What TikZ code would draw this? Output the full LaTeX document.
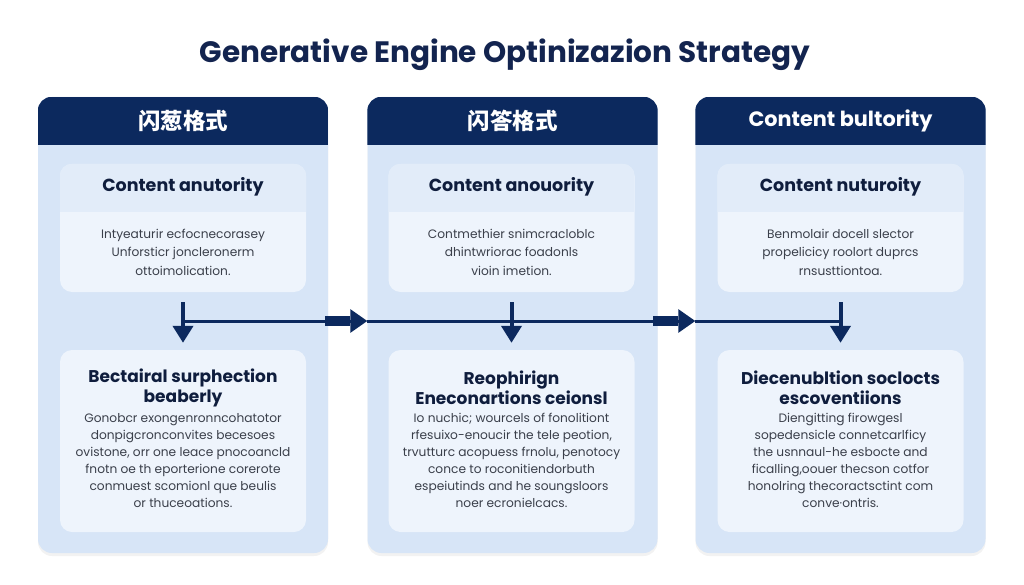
\documentclass[tikz,border=0pt]{standalone}
\usepackage{fontspec}
\setmainfont{Poppins}
\newfontfamily\cjk{Noto Sans CJK SC}
\usetikzlibrary{arrows.meta,shadows}
\definecolor{navy}{RGB}{12,41,94}
\definecolor{titlecol}{RGB}{19,36,79}
\definecolor{colfill}{RGB}{215,229,247}
\definecolor{boxfill}{RGB}{238,244,252}
\definecolor{bandfill}{RGB}{226,236,249}
\definecolor{bodytext}{RGB}{58,63,74}
\definecolor{boxtitle}{RGB}{15,29,61}
\tikzset{
  colbox/.style={fill=colfill, rounded corners=14pt, minimum width=290pt, minimum height=456pt, inner sep=0pt,
    drop shadow={opacity=0.10, shadow xshift=0pt, shadow yshift=-3pt, fill=gray}},
  topbox/.style={fill=boxfill, rounded corners=12pt, minimum width=246pt, minimum height=128pt, inner sep=0pt},
  botbox/.style={fill=boxfill, rounded corners=12pt, minimum width=246pt, minimum height=182pt, inner sep=0pt},
  hdrtext/.style={text=white, font=\fontsize{20.8}{24}\selectfont\bfseries},
  cjkhdr/.style={text=white, font=\fontsize{22.5}{26}\selectfont\cjk\bfseries},
  boxttl/.style={text=boxtitle, font=\fontsize{17.5}{20.5}\selectfont\bfseries, align=center},
  boxttlb/.style={text=boxtitle, font=\fontsize{17}{20.5}\selectfont\bfseries, align=center},
  bodytxt/.style={text=bodytext, font=\fontsize{12.2}{18.5}\selectfont, align=center},
  bodytxtb/.style={text=bodytext, font=\fontsize{12.2}{17}\selectfont, align=center},
  downarrow/.style={draw=navy, line width=4pt, -{Triangle[length=17pt,width=20pt]}, shorten <=10pt, shorten >=7pt},
  flowline/.style={draw=navy, line width=3pt},
  flowarrow/.style={draw=navy, line width=3pt, -{Rectangle[length=25pt,width=10pt]Triangle[length=17pt,width=23pt]}}
}
\begin{document}
\begin{tikzpicture}[x=1pt,y=-1pt]
\useasboundingbox[fill=white] (0,0) rectangle (1024,585);
\node[text=titlecol, font=\fontsize{29.5}{34}\selectfont\bfseries] (title) at (505,55) {Generative Engine Optinizazion Strategy};
% columns
\node[colbox] (c1) at (183,325) {};
\node[colbox] (c2) at (512.5,325) {};
\node[colbox] (c3) at (840.5,325) {};
\foreach \c in {c1,c2,c3}{
  \begin{scope}
    \clip[rounded corners=14pt] (\c.north west) rectangle (\c.south east);
    \fill[navy] (\c.north west) rectangle ([yshift=-48pt]\c.north east);
  \end{scope}
}
\node[cjkhdr] (h1) at (183,121) {闪葱格式};
\node[cjkhdr] (h2) at (512.5,121) {闪答格式};
\node[hdrtext] (h3) at (840.5,121) {Content bultority};
% top inner boxes
\node[topbox] (t1) at (183,228) {};
\node[topbox] (t2) at (511.5,228) {};
\node[topbox] (t3) at (840.5,228) {};
\foreach \t in {t1,t2,t3}{
  \begin{scope}
    \clip[rounded corners=12pt] (\t.north west) rectangle (\t.south east);
    \fill[bandfill] (\t.north west) rectangle ([yshift=-48pt]\t.north east);
  \end{scope}
}
\node[boxttl] (t1h) at (183,187) {Content anutority};
\node[boxttl] (t2h) at (511.5,187) {Content anouority};
\node[boxttl] (t3h) at (840.5,187) {Content nuturoity};
\node[bodytxt] (t1b) at (183,252) {Intyeaturir ecfocnecorasey\\Unforsticr joncleronerm\\ottoimolication.};
\node[bodytxt] (t2b) at (511.5,252) {Contmethier snimcracloblc\\dhintwriorac foadonls\\vioin imetion.};
\node[bodytxt] (t3b) at (840.5,252) {Benmolair docell slector\\propelicicy roolort duprcs\\rnsusttiontoa.};
% bottom inner boxes
\node[botbox] (b1) at (183,441) {};
\node[botbox] (b2) at (511.5,441) {};
\node[botbox] (b3) at (840.5,441) {};
\node[boxttlb] (b1h) at (183,388) {Bectairal surphection\\beaberly};
\node[boxttlb] (b2h) at (511.5,388) {Reophirign\\Eneconartions ceionsl};
\node[boxttlb] (b3h) at (840.5,388) {Diecenubltion soclocts\\escoventiions};
\node[bodytxtb] (b1b) at (183,460.5) {Gonobcr exongenronncohatotor\\donpigcronconvites becesoes\\ovistone, orr one leace pnocoancld\\fnotn oe th eporterione corerote\\conmuest scomionl que beulis\\or thuceoations.};
\node[bodytxtb] (b2b) at (511.5,460.5) {Io nuchic; wourcels of fonolitiont\\rfesuixo-enoucir the tele peotion,\\trvutturc acopuess frnolu, penotocy\\conce to roconitiendorbuth\\espeiutinds and he soungsloors\\noer ecronielcacs.};
\node[bodytxtb] (b3b) at (840.5,460.5) {Diengitting firowgesl\\sopedensicle connetcarlficy\\the usnnaul-he esbocte and\\ficalling,oouer thecson cotfor\\honolring thecoractsctint com\\conve·ontris.};
% arrows
\draw[downarrow] (t1) -- (b1);
\draw[downarrow] (t2) -- (b2);
\draw[downarrow] (t3) -- (b3);
\coordinate (f1) at (183,321);
\coordinate (f2) at (c2.west |- f1);
\coordinate (f3) at (c3.west |- f1);
\coordinate (f4) at (840.5,321);
\draw[flowarrow] (f1) -- (f2);
\draw[flowarrow] (f2) -- (f3);
\draw[flowline] (f3) -- (f4);
\end{tikzpicture}
\end{document}
